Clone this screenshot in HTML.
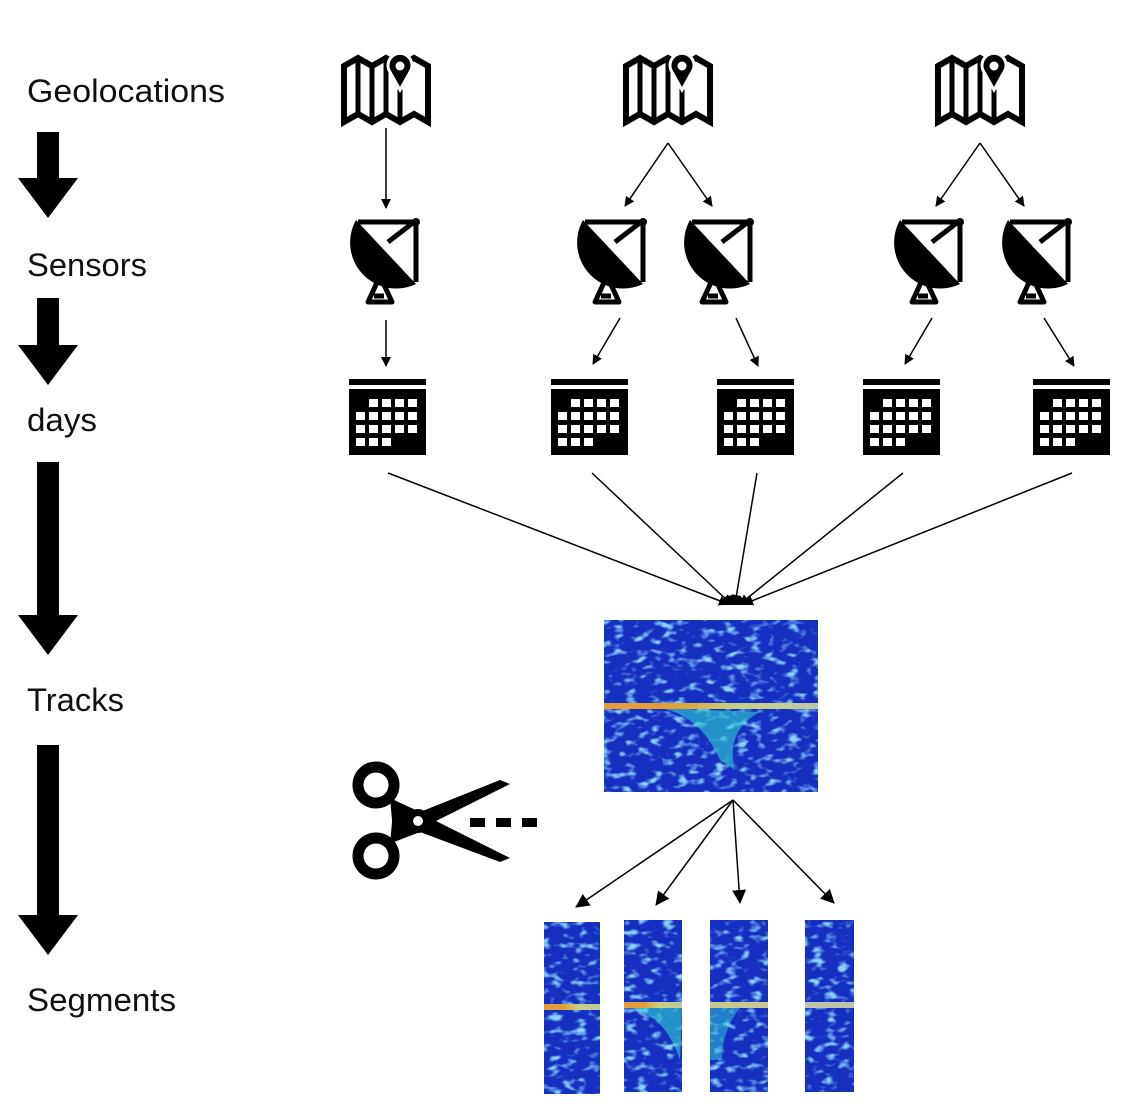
<!DOCTYPE html>
<html><head><meta charset="utf-8"><style>
html,body{margin:0;padding:0;background:#fff;}
svg{display:block;}
text{font-family:"Liberation Sans",sans-serif;font-size:32px;fill:#111;}
</style></head><body>
<svg width="1128" height="1112" viewBox="0 0 1128 1112" xmlns="http://www.w3.org/2000/svg">
<defs>
<marker id="ah" markerWidth="10" markerHeight="10" refX="9" refY="5" orient="auto" markerUnits="userSpaceOnUse" viewBox="0 0 10 10"><path d="M0,0 L10,5 L0,10 z" fill="#000"/></marker>
<marker id="ahb" markerWidth="14" markerHeight="14" refX="13" refY="7" orient="auto" markerUnits="userSpaceOnUse" viewBox="0 0 14 14"><path d="M0,0 L14,7 L0,14 z" fill="#000"/></marker>
<g id="map">
 <path d="M-42,-28 L-28,-36 L-14,-28 L0,-36 L14,-28 L28,-36 L42,-28 L42,28 L28,20 L14,28 L0,20 L-14,28 L-28,20 L-42,28 Z" fill="none" stroke="#000" stroke-width="6" stroke-linejoin="miter"/>
 <path d="M-28,-36 L-28,20 M-14,-28 L-14,28 M0,-36 L0,20 M14,-28 L14,28" stroke="#000" stroke-width="5"/>
 <path d="M14,-4 L4,-22 A12,12 0 1 1 24,-22 Z" fill="#000" stroke="#fff" stroke-width="3"/>
 <circle cx="14" cy="-28" r="4.5" fill="#fff"/>
</g>
<g id="dish">
 <path d="M-32,-42 A46,46 0 0 0 28,22 Z" fill="#000"/>
 <path d="M-30,-40 L28,-40 L28,20 M0,-20 L26,-40" stroke="#000" stroke-width="5" fill="none"/>
 <circle cx="28" cy="-40" r="4" fill="#000"/>
 <path d="M-20,40 L-8,14 L4,40 Z M-14,34 L-4,34" fill="none" stroke="#000" stroke-width="5" stroke-linejoin="round"/>
</g>
<g id="cal">
 <rect x="0" y="0" width="77" height="6" fill="#000"/>
 <rect x="0" y="10" width="77" height="66" fill="#000"/>
 <g fill="#fff">
 <rect x="20" y="20" width="9" height="8"/><rect x="33" y="20" width="9" height="8"/><rect x="46" y="20" width="9" height="8"/><rect x="59" y="20" width="9" height="8"/>
 <rect x="7" y="33" width="9" height="8"/><rect x="20" y="33" width="9" height="8"/><rect x="33" y="33" width="9" height="8"/><rect x="46" y="33" width="9" height="8"/><rect x="59" y="33" width="9" height="8"/>
 <rect x="7" y="46" width="9" height="8"/><rect x="20" y="46" width="9" height="8"/><rect x="33" y="46" width="9" height="8"/><rect x="46" y="46" width="9" height="8"/><rect x="59" y="46" width="9" height="8"/>
 <rect x="7" y="59" width="9" height="8"/><rect x="20" y="59" width="9" height="8"/><rect x="33" y="59" width="9" height="8"/>
 </g>
</g>
<filter id="noise" x="0" y="0" width="100%" height="100%">
 <feTurbulence type="fractalNoise" baseFrequency="0.08 0.14" numOctaves="2" seed="4" result="t"/>
 <feColorMatrix in="t" type="matrix" values="0 0 0 0 0.25  0 0 0 0 0.65  0 0 0 0 1  4 0 0 0 -2.1" result="c"/>
 <feComposite in="c" in2="SourceGraphic" operator="in"/>
</filter>
<linearGradient id="ln" x1="0" x2="1"><stop offset="0" stop-color="#e89a40"/><stop offset="0.35" stop-color="#e0a030"/><stop offset="0.6" stop-color="#c8d080"/><stop offset="1" stop-color="#c0c8a0"/></linearGradient>
</defs>

<g textLength="1">
<text x="27" y="102" textLength="198" lengthAdjust="spacingAndGlyphs">Geolocations</text>
<text x="27" y="276" textLength="120" lengthAdjust="spacingAndGlyphs">Sensors</text>
<text x="27" y="431" textLength="70" lengthAdjust="spacingAndGlyphs">days</text>
<text x="27" y="711" textLength="97" lengthAdjust="spacingAndGlyphs">Tracks</text>
<text x="27" y="1011" textLength="149" lengthAdjust="spacingAndGlyphs">Segments</text>
</g>
<g fill="#000">
 <path d="M37,132 H59 V178 H78 L48,218 L18,178 H37 Z"/>
 <path d="M37,298 H59 V345 H78 L48,385 L18,345 H37 Z"/>
 <path d="M37,462 H59 V615 H78 L48,655 L18,615 H37 Z"/>
 <path d="M37,745 H59 V915 H78 L48,955 L18,915 H37 Z"/>
</g>

<use href="#map" x="386" y="94"/>
<use href="#map" x="668" y="94"/>
<use href="#map" x="980" y="94"/>
<use href="#dish" x="388" y="262"/>
<use href="#dish" x="615" y="262"/>
<use href="#dish" x="722" y="262"/>
<use href="#dish" x="932" y="262"/>
<use href="#dish" x="1040" y="262"/>
<use href="#cal" x="349" y="379"/>
<use href="#cal" x="551" y="379"/>
<use href="#cal" x="717" y="379"/>
<use href="#cal" x="863" y="379"/>
<use href="#cal" x="1033" y="379"/>

<g stroke="#000" stroke-width="1.5" marker-end="url(#ah)">
 <line x1="386" y1="128" x2="386" y2="208"/>
 <line x1="668" y1="143" x2="625" y2="206"/>
 <line x1="668" y1="143" x2="712" y2="206"/>
 <line x1="980" y1="143" x2="936" y2="206"/>
 <line x1="980" y1="143" x2="1024" y2="206"/>
 <line x1="386" y1="320" x2="386" y2="366"/>
 <line x1="620" y1="318" x2="593" y2="364"/>
 <line x1="736" y1="318" x2="758" y2="366"/>
 <line x1="932" y1="318" x2="905" y2="364"/>
 <line x1="1044" y1="318" x2="1074" y2="366"/>
 <line x1="388" y1="473" x2="728" y2="604"/>
 <line x1="592" y1="473" x2="731" y2="604"/>
 <line x1="757" y1="473" x2="735" y2="604"/>
 <line x1="903" y1="473" x2="740" y2="604"/>
 <line x1="1072" y1="473" x2="744" y2="604"/>
</g>
<path d="M718,605 Q733,585 750,605 Z" fill="#000"/>

<g>
 <rect x="604" y="620" width="214" height="172" fill="#1530c0"/>
 <rect x="604" y="620" width="214" height="172" fill="#000" filter="url(#noise)"/>
 <path d="M660,708 Q700,715 720,760 L735,770 Q725,730 760,712 Z" fill="#30d0d0" opacity="0.6"/>
 <rect x="604" y="703" width="214" height="6" fill="url(#ln)"/>
</g>
<g stroke="#000" stroke-width="1.5" marker-end="url(#ahb)">
 <line x1="733" y1="800" x2="576" y2="907"/>
 <line x1="733" y1="800" x2="656" y2="905"/>
 <line x1="733" y1="800" x2="740" y2="903"/>
 <line x1="733" y1="800" x2="834" y2="903"/>
</g>

<g>
 <rect x="544" y="922" width="56" height="172" fill="#1530c0"/>
 <rect x="544" y="922" width="56" height="172" fill="#000" filter="url(#noise)"/>
 <rect x="544" y="1004" width="56" height="6" fill="url(#ln)"/>
 <rect x="624" y="920" width="58" height="172" fill="#1530c0"/>
 <rect x="624" y="920" width="58" height="172" fill="#000" filter="url(#noise)"/>
 <path d="M630,1008 Q665,1015 680,1060 L682,1008 Z" fill="#30d0d0" opacity="0.6"/>
 <rect x="624" y="1002" width="58" height="6" fill="url(#ln)"/>
 <rect x="710" y="920" width="58" height="172" fill="#1530c0"/>
 <rect x="710" y="920" width="58" height="172" fill="#000" filter="url(#noise)"/>
 <path d="M710,1008 L740,1008 Q722,1030 722,1060 L710,1060 Z" fill="#30d0d0" opacity="0.5"/>
 <rect x="710" y="1002" width="58" height="6" fill="#c8c890"/>
 <rect x="805" y="920" width="49" height="172" fill="#1530c0"/>
 <rect x="805" y="920" width="49" height="172" fill="#000" filter="url(#noise)"/>
 <rect x="805" y="1002" width="49" height="6" fill="#c0c4a8"/>
</g>

<g>
 <circle cx="376" cy="785" r="18" fill="none" stroke="#000" stroke-width="11"/>
 <circle cx="376" cy="856" r="18" fill="none" stroke="#000" stroke-width="11"/>
 <path d="M390,798 L510,858 L500,862 L420,832 L394,842 Z" fill="#000"/>
 <path d="M390,844 L510,784 L500,780 L420,812 L394,800 Z" fill="#000"/>
 <circle cx="418" cy="821" r="12" fill="#000"/>
 <circle cx="418" cy="821" r="5" fill="#fff"/>
 <rect x="470" y="818" width="15" height="9" fill="#000"/>
 <rect x="496" y="818" width="15" height="9" fill="#000"/>
 <rect x="522" y="818" width="15" height="9" fill="#000"/>
</g>
</svg>
</body></html>
